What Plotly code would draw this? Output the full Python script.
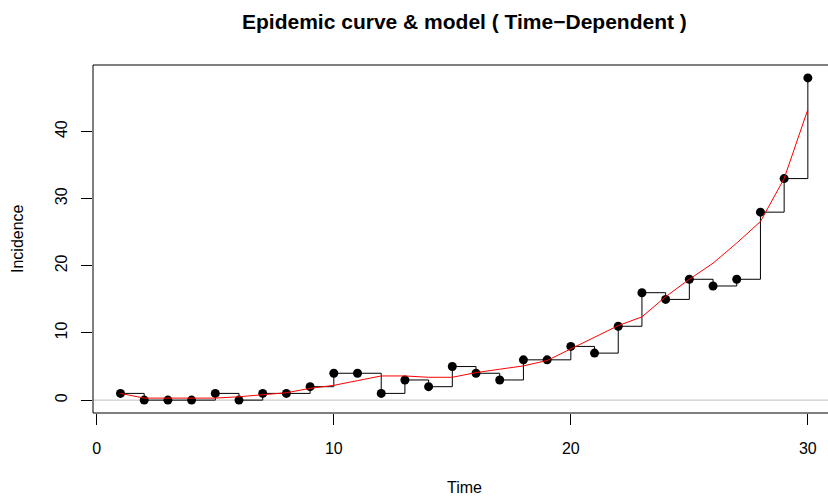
import plotly.graph_objects as go

time = list(range(1, 31))
incidence = [1, 0, 0, 0, 1, 0, 1, 1, 2, 4, 4, 1, 3, 2, 5, 4, 3, 6, 6, 8,
             7, 11, 16, 15, 18, 17, 18, 28, 33, 48]
model = [1.0, 0.3, 0.3, 0.3, 0.3, 0.5, 0.85, 1.1, 1.75, 2.2, 2.9, 3.6, 3.6, 3.4, 3.4,
         4.1, 4.6, 5.1, 5.9, 7.6, 9.3, 11.1, 12.4, 15.4, 18.0, 20.4, 23.4, 26.6, 33.0, 43.3]
x_ticks = [0, 10, 20, 30]
y_ticks = [0, 10, 20, 30, 40]

FONT = "Liberation Sans, Arial, Helvetica, sans-serif"

fig = go.Figure()
fig.add_trace(go.Scatter(x=time, y=incidence, mode="lines", line_shape="hv",
                         line=dict(color="black", width=1), hoverinfo="skip"))
fig.add_trace(go.Scatter(x=time, y=incidence, mode="markers",
                         marker=dict(color="black", size=9, line=dict(width=0))))
fig.add_trace(go.Scatter(x=time, y=model, mode="lines",
                         line=dict(color="red", width=1)))

fig.update_layout(
    width=828, height=497,
    margin=dict(l=93, r=0, t=65, b=84),
    paper_bgcolor="white", plot_bgcolor="white",
    showlegend=False,
    font=dict(family=FONT, size=16, color="black"),
    xaxis=dict(range=[-0.16, 30.85], tickvals=x_ticks, ticks="outside", ticklen=11,
               tickcolor="black", showgrid=False, zeroline=False, showline=False,
               ticklabelstandoff=10, tickfont=dict(size=16)),
    yaxis=dict(range=[-1.92, 49.92], tickvals=y_ticks, ticks="outside", ticklen=11,
               tickcolor="black", showgrid=False, zeroline=False, showline=False,
               tickangle=-90, ticklabelstandoff=8, tickfont=dict(size=16)),
    shapes=[
        dict(type="line", xref="paper", yref="y", x0=0, x1=1.1, y0=0, y1=0,
             line=dict(color="#BEBEBE", width=1), layer="below"),
        dict(type="rect", xref="paper", yref="paper", x0=0, x1=1.1, y0=0, y1=1,
             line=dict(color="black", width=1), layer="above"),
    ],
    annotations=[
        dict(text="<b>Epidemic curve & model ( Time\u2212Dependent )</b>", xref="paper", yref="paper",
             x=0.505, y=1, yshift=44, showarrow=False, xanchor="center", yanchor="middle",
             font=dict(size=21, family=FONT)),
        dict(text="Time", xref="paper", yref="paper", x=0.505, y=0, yshift=-74,
             showarrow=False, xanchor="center", yanchor="middle", font=dict(size=16, family=FONT)),
        dict(text="Incidence", xref="paper", yref="paper", x=0, xshift=-76, y=0.5,
             textangle=-90, showarrow=False, xanchor="center", yanchor="middle",
             font=dict(size=16, family=FONT)),
    ],
)

fig.write_html("out.html")
